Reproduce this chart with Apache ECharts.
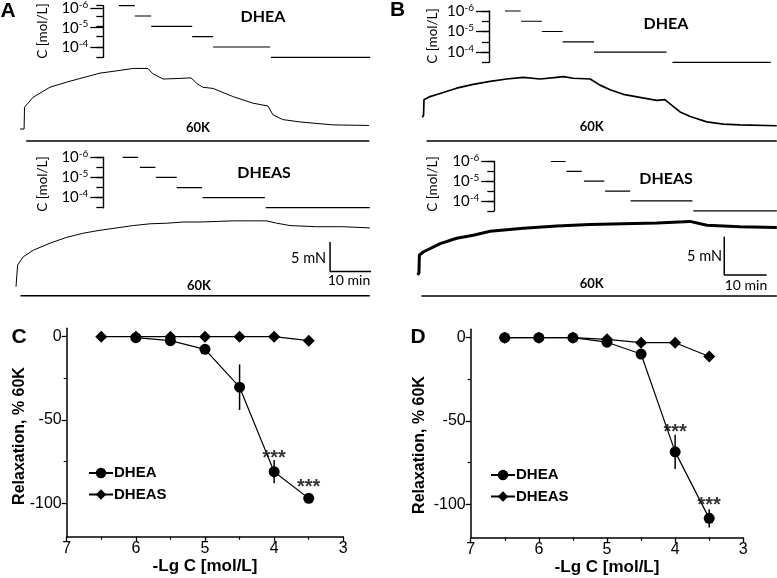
<!DOCTYPE html>
<html><head><meta charset="utf-8">
<script src="https://cdn.jsdelivr.net/npm/echarts@6/dist/echarts.min.js"></script>
<style>html,body{margin:0;padding:0;background:#fff}#c{width:777px;height:578px}</style>
</head><body><div id="c"></div>
<script>
// ================= DATA =================
// concentration steps (log10 of C, mol/L) applied during the traces
const stepLevels = [-6, -5.5, -5, -4.5, -4, -3.5];

// Panel A, DHEA trace: [time (min), force (mN)]
const traceA_DHEA = [[0,0],[1.0,0],[1.1,3.7],[3.2,5.4],[7.3,7.1],[11.5,8.0],[19.5,9.5],[23.7,9.9],[27.6,10.3],[31.2,10.3],[32.4,9.4],[34.9,8.5],[39.0,8.6],[41.7,8.7],[43.2,7.7],[44.6,7.1],[47.1,6.9],[52.0,5.5],[56.8,4.4],[60.5,3.9],[61.7,2.4],[64.1,1.6],[68.3,1.2],[76.3,0.7],[85.1,0.6]];
const stepsA_DHEA_start = [24.1,28.0,32.0,42.0,47.1,61.2];
const stepsA_DHEA_end   = [28.0,32.0,42.0,47.1,61.0,85.4];
const kA_DHEA = [1.5, 85.2];

// Panel A, DHEAS trace
const traceA_DHEAS = [[0,0],[0.3,0.2],[0.4,3.7],[1.8,5.1],[4.2,6.2],[8.3,7.4],[12.4,8.4],[16.4,9.1],[20.5,9.6],[24.6,10.0],[28.6,10.4],[32.7,10.7],[36.8,10.8],[40.8,11.0],[44.9,11.0],[49.0,11.1],[53.0,11.2],[57.1,11.2],[61.1,11.2],[63.6,10.8],[66.8,10.4],[73.3,10.2],[79.8,10.2],[86.3,10.0]];
const stepsA_DHEAS_start = [26.0,30.2,34.1,39.2,45.5,60.9];
const stepsA_DHEAS_end   = [29.8,34.0,39.2,45.4,60.7,86.3];
const kA_DHEAS = [1.1, 86.3];
const scaleA = [76.6, 2.6];      // scale bar corner [min, mN]

// Panel B, DHEA trace
const traceB_DHEA = [[0,0],[0.3,0.3],[0.4,2.3],[1.8,2.7],[4.2,3.1],[8.1,3.8],[12.0,4.3],[16.0,4.7],[19.9,5.0],[23.8,5.2],[27.8,5.0],[31.7,5.2],[33.3,5.3],[35.6,5.1],[39.6,5.0],[41.9,4.2],[44.3,3.6],[47.4,3.0],[51.3,2.6],[55.3,2.2],[57.2,2.3],[58.8,1.6],[60.8,0.7],[63.2,0.1],[67.1,-0.6],[71.0,-0.9],[74.9,-1.0],[83.6,-1.1]];
const stepsB_DHEA_start = [19.5,23.3,28.2,33.1,40.5,59.0];
const stepsB_DHEA_end   = [23.2,28.2,33.1,40.5,57.6,82.2];
const kB_DHEA = [1.0, 83.6];

// Panel B, DHEAS trace
const traceB_DHEAS = [[0,0],[0.3,0.3],[0.4,2.6],[1.3,3.0],[5.3,4.1],[9.2,4.8],[13.1,5.2],[17.1,5.7],[24.9,6.1],[32.8,6.4],[40.6,6.6],[48.5,6.7],[56.4,6.8],[64.2,7.0],[68.2,6.5],[76.0,6.3],[84.7,6.2]];
const stepsB_DHEAS_start = [31.4,35.1,39.2,44.2,50.2,65.0];
const stepsB_DHEAS_end   = [34.9,38.7,44.0,50.1,64.8,84.7];
const kB_DHEAS = [0.9, 84.7];
const scaleB = [72.3, 0];

const scaleLen = [10, 5]; // 10 min, 5 mN

// Concentration-response (C, D): -lg C and relaxation (% of 60K)
const lgC = [6.5, 6, 5.5, 5, 4.5, 4, 3.5];
const lgC_DHEA_C = [6, 5.5, 5, 4.5, 4, 3.5];
const C_DHEA     = [-0.6, -2.4, -7.6, -30.3, -81, -97];
const C_DHEA_sem = [0, 0, 0, 13.7, 7, 0];
const C_DHEAS    = [0, 0, 0, 0, 0, 0, -2.4];
const D_DHEA     = [0, 0, 0, -2.7, -9.8, -68.5, -108.4];
const D_DHEA_sem = [0, 0, 0, 0, 0, 10.3, 5.5];
const D_DHEAS    = [0, 0, 0, -1, -3, -3, -11.3];
const starsC = [[4, -69.8], [3.5, -87.2]];
const starsD = [[4, -53.8], [3.5, -97.6]];

// ================= BUILD =================
const SANS = "'Liberation Sans', Arial, sans-serif";
const CAL = "Lato, Carlito, sans-serif";
const grids = [], xAxes = [], yAxes = [], series = [], graphics = [];
function addGrid(g){ grids.push(g); return grids.length - 1; }
function hiddenX(gi, min, max){ return xAxes.push({type:'value', gridIndex:gi, min, max, show:false}) - 1; }

function stepData(s0, s1){
  const d = [];
  s0.forEach((a, i) => {
    d.push([a, stepLevels[i]], [s1[i], stepLevels[i]]);
    if (i < s0.length - 1) d.push([s1[i], '-']);
  });
  return d;
}

function tracePanel(cfg){
  const left = cfg.ox, width = cfg.right - cfg.ox, top = cfg.top, height = cfg.bottom - cfg.top;
  const xMax = width / cfg.pxMin;
  const yMax = (cfg.oy - cfg.top) / cfg.pxMN, yMin = -(cfg.bottom - cfg.oy) / cfg.pxMN;
  const gi = addGrid({left, top, width, height});
  const xi = hiddenX(gi, 0, xMax);
  const yi = yAxes.push({type:'value', gridIndex:gi, min:yMin, max:yMax, show:false}) - 1;
  series.push({type:'line', xAxisIndex:xi, yAxisIndex:yi, data:cfg.trace, symbol:'none', clip:false,
    lineStyle:{color:'#000', width:cfg.lw, join:'round'}, silent:true});
  const kY = (cfg.oy - cfg.kPx) / cfg.pxMN;
  series.push({type:'line', xAxisIndex:xi, yAxisIndex:yi, data:[[cfg.k[0], kY], [cfg.k[1], kY]], symbol:'none', clip:false,
    lineStyle:{color:'#000', width:1.5}, silent:true});
  if (cfg.sb) {
    const s = cfg.sb;
    series.push({type:'line', xAxisIndex:xi, yAxisIndex:yi, symbol:'none', clip:false,
      data:[[s[0], s[1] + scaleLen[1]], [s[0], s[1]], [s[0] + scaleLen[0], s[1]]],
      lineStyle:{color:'#000', width:1.5}, silent:true});
  }
  // concentration steps
  const cH = cfg.cBottom - cfg.cTop;
  const g2 = addGrid({left, top:cfg.cTop, width, height:cH});
  const x2 = hiddenX(g2, 0, xMax);
  const y2 = yAxes.push({type:'value', gridIndex:g2, min:-6, max:-3.5, interval:0.5, inverse:true,
    position:'left', offset:left - cfg.cx,
    axisLine:{show:true, onZero:false, lineStyle:{color:'#000', width:1.4}},
    axisTick:{show:true, length:7, lineStyle:{color:'#000', width:1.3}},
    axisLabel:{show:false}, splitLine:{show:false}}) - 1;
  series.push({type:'line', xAxisIndex:x2, yAxisIndex:y2, data:stepData(cfg.s0, cfg.s1), symbol:'none',
    connectNulls:false, clip:false, lineStyle:{color:'#000', width:1.2}, silent:true});
  // long ticks + labels at decades
  const g3 = addGrid({left, top:cfg.cTop, width, height:cH * 0.8});
  hiddenX(g3, 0, xMax);
  yAxes.push({type:'value', gridIndex:g3, min:-6, max:-4, interval:1, inverse:true,
    position:'left', offset:left - cfg.cx,
    axisLine:{show:false, onZero:false},
    axisTick:{show:true, length:13, lineStyle:{color:'#000', width:1.3}},
    splitLine:{show:false},
    axisLabel:{show:true, margin:15, formatter:v => '{n|10}{s|' + v + '}',
      rich:{n:{fontFamily:CAL, fontSize:15, color:'#000', lineHeight:17},
            s:{fontFamily:CAL, fontSize:10, color:'#000', verticalAlign:'top', lineHeight:10}}}});
  graphics.push({type:'text', x:cfg.nameX, y:cfg.nameY, rotation:Math.PI/2,
    style:{text:'C [mol/L]', x:0, y:0, align:'center', verticalAlign:'middle', textAlign:'center', textVerticalAlign:'middle', font:'13.5px ' + CAL, fill:'#000'}});
}

tracePanel({ox:20, oy:129, pxMin:4.1, pxMN:5.88, top:58, bottom:146, right:372, kPx:141,
  cx:103.3, cTop:5.7, cBottom:57.3, nameX:43, nameY:31, lw:1,
  trace:traceA_DHEA, s0:stepsA_DHEA_start, s1:stepsA_DHEA_end, k:kA_DHEA, sb:null});
tracePanel({ox:16, oy:286.7, pxMin:4.1, pxMN:5.88, top:214, bottom:301, right:372, kPx:295.7,
  cx:103.3, cTop:157.3, cBottom:207.7, nameX:43, nameY:184, lw:1,
  trace:traceA_DHEAS, s0:stepsA_DHEAS_start, s1:stepsA_DHEAS_end, k:kA_DHEAS, sb:scaleA});
tracePanel({ox:422.3, oy:117.3, pxMin:4.24, pxMN:7.66, top:58, bottom:146, right:777, kPx:141,
  cx:489, cTop:11, cBottom:62.3, nameX:433, nameY:36, lw:1.7,
  trace:traceB_DHEA, s0:stepsB_DHEA_start, s1:stepsB_DHEA_end, k:kB_DHEA, sb:null});
tracePanel({ox:417.7, oy:275, pxMin:4.24, pxMN:7.66, top:214, bottom:301, right:777, kPx:296,
  cx:494.3, cTop:161.5, cBottom:210.8, nameX:433, nameY:184, lw:3,
  trace:traceB_DHEAS, s0:stepsB_DHEAS_start, s1:stepsB_DHEAS_end, k:kB_DHEAS, sb:scaleB});

function dosePanel(cfg){
  const width = cfg.right - cfg.left;
  const g = addGrid({left:cfg.left, top:cfg.y0 - 5 * cfg.pxU, width, height:125 * cfg.pxU});
  const xi = xAxes.push({type:'value', gridIndex:g, min:3, max:7, interval:1, inverse:true,
    axisLine:{show:true, onZero:false, lineStyle:{color:'#000', width:1.5}},
    axisTick:{show:true, length:5, lineStyle:{color:'#000', width:1.3}},
    minorTick:{show:true, splitNumber:2, length:3, lineStyle:{color:'#000', width:1.2}},
    splitLine:{show:false}, minorSplitLine:{show:false},
    axisLabel:{color:'#000', fontSize:16, fontFamily:SANS, margin:4},
    name:'-Lg C [mol/L]', nameLocation:'middle', nameGap:18,
    nameTextStyle:{color:'#000', fontSize:17, fontWeight:'bold', fontFamily:SANS}}) - 1;
  const yi = yAxes.push({type:'value', gridIndex:g, min:-120, max:5,
    axisLine:{show:true, onZero:false, lineStyle:{color:'#000', width:1.5}},
    axisTick:{show:false}, axisLabel:{show:false}, splitLine:{show:false}}) - 1;
  // ticks/labels axis (0 .. -100)
  const g2 = addGrid({left:cfg.left, top:cfg.y0, width, height:100 * cfg.pxU});
  hiddenX(g2, 3, 7);
  yAxes.push({type:'value', gridIndex:g2, min:-100, max:0, interval:50,
    axisLine:{show:false, onZero:false},
    axisTick:{show:true, length:5, lineStyle:{color:'#000', width:1.3}},
    minorTick:{show:true, splitNumber:2, length:3, lineStyle:{color:'#000', width:1.2}},
    splitLine:{show:false}, minorSplitLine:{show:false},
    axisLabel:{color:'#000', fontSize:16, fontFamily:SANS, margin:5}});

  series.push({type:'custom', xAxisIndex:xi, yAxisIndex:yi, silent:true, z:2,
    data: cfg.dx.map((x, i) => [x, cfg.dhea[i], cfg.sem[i]]).filter(d => d[2] > 0),
    renderItem:(p, api) => {
      const x = api.value(0), m = api.value(1), e = api.value(2);
      const a = api.coord([x, m + e]), b = api.coord([x, m - e]);
      return {type:'line', shape:{x1:a[0], y1:a[1], x2:b[0], y2:b[1]}, style:{stroke:'#000', lineWidth:1.5}};
    }});
  series.push({type:'line', name:'DHEA', xAxisIndex:xi, yAxisIndex:yi, z:3,
    data: cfg.dx.map((x, i) => [x, cfg.dhea[i]]), symbol:'circle', symbolSize:11,
    itemStyle:{color:'#000'}, lineStyle:{color:'#000', width:1.2}});
  series.push({type:'line', name:'DHEAS', xAxisIndex:xi, yAxisIndex:yi, z:4,
    data: lgC.map((x, i) => [x, cfg.dheas[i]]), symbol:'diamond', symbolSize:12,
    itemStyle:{color:'#000'}, lineStyle:{color:'#000', width:1.2}});
  series.push({type:'scatter', xAxisIndex:xi, yAxisIndex:yi, z:5, data:cfg.stars, symbolSize:1,
    itemStyle:{color:'rgba(0,0,0,0)'}, silent:true,
    label:{show:true, position:'inside', formatter:'***', fontSize:20, fontWeight:'bold', fontFamily:SANS, color:'#000', offset:[0,5]}});
  graphics.push({type:'text', x:cfg.ylx, y:cfg.yly, rotation:Math.PI/2,
    style:{text:'Relaxation, % 60K', x:0, y:0, align:'center', verticalAlign:'middle', textAlign:'center', textVerticalAlign:'middle', font:'bold 16px ' + SANS, fill:'#000'}});
}

dosePanel({left:66.7, right:343.3, y0:336.7, pxU:1.6667, dx:lgC_DHEA_C, dhea:C_DHEA, sem:C_DHEA_sem, dheas:C_DHEAS, stars:starsC, ylx:20, yly:436});
dosePanel({left:470.7, right:743.3, y0:337.7, pxU:1.6667, dx:lgC, dhea:D_DHEA, sem:D_DHEA_sem, dheas:D_DHEAS, stars:starsD, ylx:420, yly:445});

// annotation texts
function txt(t, x, y, font, align){
  graphics.push({type:'text', x, y, style:{text:t, x:0, y:0, align:align || 'center', textAlign:align || 'center',
    verticalAlign:'middle', textVerticalAlign:'middle', font, fill:'#000'}});
}
txt('A', 8, 11.5, 'bold 21px ' + SANS);
txt('B', 397.5, 10.5, 'bold 21px ' + SANS);
txt('C', 19, 337.3, 'bold 21px ' + SANS);
txt('D', 418, 337, 'bold 21px ' + SANS);
txt('DHEA', 263, 17.3, 'bold 16px ' + CAL);
txt('DHEAS', 264, 173.3, 'bold 16px ' + CAL);
txt('DHEA', 666, 24, 'bold 16px ' + CAL);
txt('DHEAS', 666, 179, 'bold 16px ' + CAL);
txt('60K', 198, 128.3, 'bold 13px ' + CAL);
txt('60K', 199, 285.7, 'bold 13px ' + CAL);
txt('60K', 591.7, 127.3, 'bold 13px ' + CAL);
txt('60K', 591.7, 284, 'bold 13px ' + CAL);
txt('5 mN', 326, 258.7, '14.5px ' + CAL, 'right');
txt('10 min', 349, 280, '14px ' + CAL);
txt('5 mN', 722, 256.7, '14.5px ' + CAL, 'right');
txt('10 min', 746, 285.7, '14px ' + CAL);

const legendBase = {orient:'vertical', itemWidth:24, itemHeight:13, itemGap:6.5, selectedMode:false,
  data:['DHEA', 'DHEAS'], padding:0,
  textStyle:{color:'#000', fontSize:15, fontWeight:'bold', fontFamily:SANS, padding:[0,0,0,-4]}};

const chart = echarts.init(document.getElementById('c'));
chart.setOption({
  animation:false,
  backgroundColor:'#fff',
  grid:grids, xAxis:xAxes, yAxis:yAxes, series,
  legend:[Object.assign({left:88, top:465.5}, legendBase), Object.assign({left:490, top:467.5}, legendBase)],
  graphic:graphics
});
</script></body></html>
